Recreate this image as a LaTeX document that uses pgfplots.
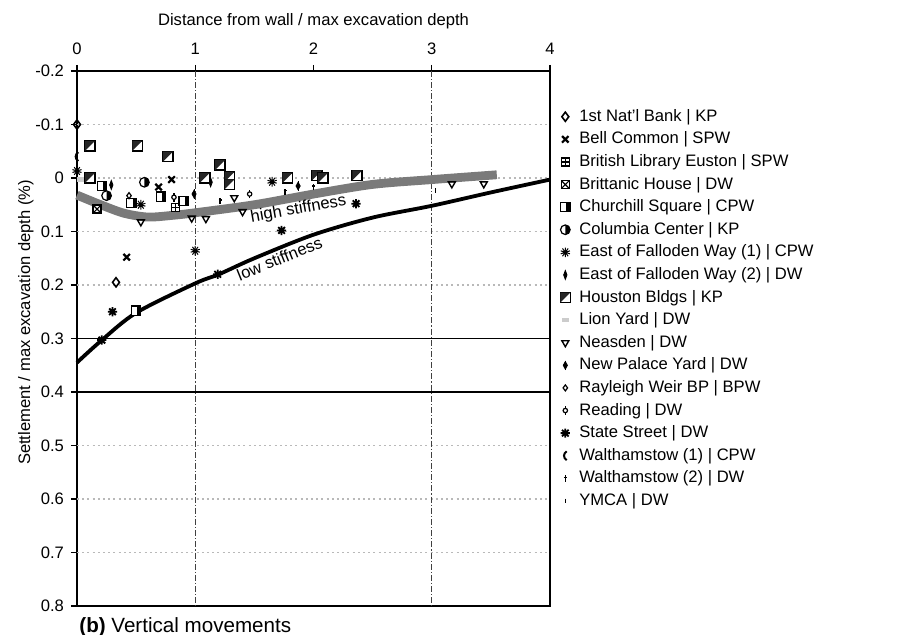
\documentclass[border=0pt]{standalone}
\usepackage{fontspec}
\setmainfont{Liberation Sans}
\usepackage{pgfplots}
\pgfplotsset{compat=1.18}
\usetikzlibrary{plotmarks}

% custom marks
\pgfdeclareplotmark{sqplus}{%
 \pgfpathrectangle{\pgfqpoint{-\pgfplotmarksize}{-\pgfplotmarksize}}{\pgfqpoint{2\pgfplotmarksize}{2\pgfplotmarksize}}%
 \pgfusepathqfillstroke
 \pgfpathmoveto{\pgfqpoint{0pt}{-\pgfplotmarksize}}\pgfpathlineto{\pgfqpoint{0pt}{\pgfplotmarksize}}%
 \pgfpathmoveto{\pgfqpoint{-\pgfplotmarksize}{0pt}}\pgfpathlineto{\pgfqpoint{\pgfplotmarksize}{0pt}}%
 \pgfusepathqstroke}
\pgfdeclareplotmark{sqtimes}{%
 \pgfpathrectangle{\pgfqpoint{-\pgfplotmarksize}{-\pgfplotmarksize}}{\pgfqpoint{2\pgfplotmarksize}{2\pgfplotmarksize}}%
 \pgfusepathqfillstroke
 \pgfpathmoveto{\pgfqpoint{-\pgfplotmarksize}{-\pgfplotmarksize}}\pgfpathlineto{\pgfqpoint{\pgfplotmarksize}{\pgfplotmarksize}}%
 \pgfpathmoveto{\pgfqpoint{-\pgfplotmarksize}{\pgfplotmarksize}}\pgfpathlineto{\pgfqpoint{\pgfplotmarksize}{-\pgfplotmarksize}}%
 \pgfusepathqstroke}
\pgfdeclareplotmark{sqbar}{%
 \pgfpathrectangle{\pgfqpoint{-\pgfplotmarksize}{-\pgfplotmarksize}}{\pgfqpoint{2\pgfplotmarksize}{2\pgfplotmarksize}}%
 \pgfusepathqfillstroke
 \pgfscope\pgfsetfillcolor{black}%
 \pgfpathrectangle{\pgfqpoint{0.25\pgfplotmarksize}{-\pgfplotmarksize}}{\pgfqpoint{0.75\pgfplotmarksize}{2\pgfplotmarksize}}%
 \pgfusepathqfill\endpgfscope}
\pgfdeclareplotmark{sqdiag}{%
 \pgfpathrectangle{\pgfqpoint{-\pgfplotmarksize}{-\pgfplotmarksize}}{\pgfqpoint{2\pgfplotmarksize}{2\pgfplotmarksize}}%
 \pgfusepathqfillstroke
 \pgfscope\pgfsetfillcolor{black!85}%
 \pgfpathmoveto{\pgfqpoint{-\pgfplotmarksize}{-\pgfplotmarksize}}%
 \pgfpathlineto{\pgfqpoint{-\pgfplotmarksize}{\pgfplotmarksize}}%
 \pgfpathlineto{\pgfqpoint{\pgfplotmarksize}{\pgfplotmarksize}}%
 \pgfpathclose
 \pgfusepathqfill\endpgfscope}
\pgfdeclareplotmark{halfc}{%
 \pgfpathcircle{\pgfpointorigin}{\pgfplotmarksize}%
 \pgfusepathqfillstroke
 \pgfscope\pgfsetfillcolor{black}%
 \pgfpathmoveto{\pgfqpoint{0pt}{\pgfplotmarksize}}%
 \pgfpatharc{90}{-90}{\pgfplotmarksize}%
 \pgfpathclose
 \pgfusepathqfill\endpgfscope}
\pgfdeclareplotmark{spoke8}{%
 \pgfpathmoveto{\pgfqpoint{-\pgfplotmarksize}{0pt}}\pgfpathlineto{\pgfqpoint{\pgfplotmarksize}{0pt}}%
 \pgfpathmoveto{\pgfqpoint{0pt}{-\pgfplotmarksize}}\pgfpathlineto{\pgfqpoint{0pt}{\pgfplotmarksize}}%
 \pgfpathmoveto{\pgfqpoint{-0.72\pgfplotmarksize}{-0.72\pgfplotmarksize}}\pgfpathlineto{\pgfqpoint{0.72\pgfplotmarksize}{0.72\pgfplotmarksize}}%
 \pgfpathmoveto{\pgfqpoint{-0.72\pgfplotmarksize}{0.72\pgfplotmarksize}}\pgfpathlineto{\pgfqpoint{0.72\pgfplotmarksize}{-0.72\pgfplotmarksize}}%
 \pgfusepathqstroke}
\pgfdeclareplotmark{circstem}{%
 \pgfpathmoveto{\pgfqpoint{0pt}{-\pgfplotmarksize}}\pgfpathlineto{\pgfqpoint{0pt}{\pgfplotmarksize}}%
 \pgfusepathqstroke
 \pgfpathcircle{\pgfpointorigin}{0.5\pgfplotmarksize}%
 \pgfusepathqfillstroke}
\pgfdeclareplotmark{diamstem}{%
 \pgfpathmoveto{\pgfqpoint{0pt}{-1.3\pgfplotmarksize}}\pgfpathlineto{\pgfqpoint{0pt}{1.3\pgfplotmarksize}}%
 \pgfusepathqstroke
 \pgfpathmoveto{\pgfqpoint{0pt}{\pgfplotmarksize}}%
 \pgfpathlineto{\pgfqpoint{0.55\pgfplotmarksize}{0pt}}%
 \pgfpathlineto{\pgfqpoint{0pt}{-\pgfplotmarksize}}%
 \pgfpathlineto{\pgfqpoint{-0.55\pgfplotmarksize}{0pt}}%
 \pgfpathclose
 \pgfusepathqfillstroke}
\pgfdeclareplotmark{stemcross}{%
 \pgfpathmoveto{\pgfqpoint{0pt}{-\pgfplotmarksize}}\pgfpathlineto{\pgfqpoint{0pt}{\pgfplotmarksize}}%
 \pgfpathmoveto{\pgfqpoint{-0.45\pgfplotmarksize}{0.35\pgfplotmarksize}}\pgfpathlineto{\pgfqpoint{0.45\pgfplotmarksize}{0.35\pgfplotmarksize}}%
 \pgfusepathqstroke}
\pgfdeclareplotmark{paren}{%
 \pgfpathmoveto{\pgfqpoint{0.3\pgfplotmarksize}{\pgfplotmarksize}}%
 \pgfpathcurveto{\pgfqpoint{-0.5\pgfplotmarksize}{0.5\pgfplotmarksize}}{\pgfqpoint{-0.5\pgfplotmarksize}{-0.5\pgfplotmarksize}}{\pgfqpoint{0.3\pgfplotmarksize}{-\pgfplotmarksize}}%
 \pgfusepathqstroke}
\pgfdeclareplotmark{liony}{%
 \pgfpathrectangle{\pgfqpoint{-\pgfplotmarksize}{-0.7\pgfplotmarksize}}{\pgfqpoint{2\pgfplotmarksize}{1.4\pgfplotmarksize}}%
 \pgfusepathqfill}

\begin{document}
\begin{tikzpicture}
\useasboundingbox (-38.5pt,-14.5pt) rectangle (414.5pt,303pt);
\begin{axis}[
  at={(0,0)}, anchor=south west,
  scale only axis, width=236.5pt, height=267.5pt,
  xmin=0, xmax=4, ymin=-0.2, ymax=0.8, y dir=reverse,
  axis line style={line width=1pt},
  xtick={0,1,2,3,4}, xticklabels={0,1,2,3,4},
  ytick={-0.2,-0.1,0,0.1,0.2,0.3,0.4,0.5,0.6,0.7,0.8},
  yticklabels={-0.2,-0.1,0,0.1,0.2,0.3,0.4,0.5,0.6,0.7,0.8},
  xtick pos=upper, xticklabel pos=upper, ytick pos=left,
  tick align=outside, major tick length=3pt,
  tick style={line width=0.6pt, black},
  tick label style={font=\fontsize{8.3}{10}\selectfont},
  xticklabel style={yshift=1.5pt},
  xlabel={Distance from wall / max excavation depth},
  xlabel style={font=\fontsize{8.3}{10}\selectfont, at={(axis description cs:0.5,1.0935)}, anchor=center},
  ylabel={Settlement / max excavation depth (\%)},
  ylabel style={font=\fontsize{8.3}{10}\selectfont, at={(axis description cs:-0.108,0.53)}, anchor=center, rotate=0},
  legend style={at={(rel axis cs:1.021,0.933)}, anchor=north west, draw=none, fill=none,
    font=\fontsize{8.3}{10}\selectfont, inner sep=0pt, row sep=1.8pt,
    nodes={inner sep=1pt, text height=6pt, text depth=1.5pt}, column sep=3.5pt},
  legend cell align=left,
  legend image code/.code={\draw[mark repeat=2,mark phase=2,#1] plot coordinates {(0pt,0pt) (3pt,0pt) (6pt,0pt)};},
  clip=false,
]
% grid
\foreach \yy in {-0.1,0,0.1,0.2,0.5,0.6,0.7}{
  \edef\tmp{\noexpand\draw[gray!55, line width=0.6pt, dash pattern=on 1pt off 1.6pt] (axis cs:0,\yy) -- (axis cs:4,\yy);}\tmp
}
\draw[black, line width=0.7pt] (axis cs:0,0.3) -- (axis cs:4,0.3);
\draw[black, line width=0.7pt] (axis cs:0,0.4) -- (axis cs:4,0.4);
\draw[black!75, line width=0.6pt, dash pattern=on 3pt off 1pt on 0.6pt off 1pt] (axis cs:1,-0.2) -- (axis cs:1,0.8);
\draw[black!75, line width=0.6pt, dash pattern=on 3pt off 1pt on 0.6pt off 1pt] (axis cs:3,-0.2) -- (axis cs:3,0.8);

% high stiffness band
\addplot[forget plot, smooth, black!52, line width=4.4pt] coordinates {
 (0,0.032) (0.2,0.05) (0.4,0.066) (0.6,0.073) (0.8,0.07) (1.0,0.065) (1.5,0.05) (2.0,0.03) (2.5,0.012) (3.0,0.003) (3.55,-0.006)};
% low stiffness
\addplot[forget plot, smooth, black, line width=1.9pt] coordinates {
 (0,0.345) (0.2,0.305) (0.5,0.252) (1.0,0.197) (1.2,0.18) (1.5,0.15) (2.0,0.106) (2.5,0.074) (3.0,0.052) (3.5,0.027) (4.0,0.003)};

\node[font=\fontsize{8.3}{10}\selectfont, rotate=10, anchor=north, inner sep=0.5pt] at (axis cs:1.86,0.042) {high stiffness};
\node[font=\fontsize{8.3}{10}\selectfont, rotate=22, anchor=north, inner sep=0.3pt] at (axis cs:1.69,0.1385) {low stiffness};

% data series
\addplot[only marks, mark=diamond, mark size=2.3pt, mark options={fill=white, line width=0.8pt}] coordinates {(0,-0.1) (0.33,0.195)};
\addplot[only marks, mark=x, mark size=2.3pt, mark options={line width=1.1pt}] coordinates {(0.8,0.003) (0.69,0.017) (0.42,0.148)};
\addplot[only marks, mark=sqplus, mark size=2pt, mark options={fill=white, line width=0.6pt}] coordinates {(0.83,0.055)};
\addplot[only marks, mark=sqtimes, mark size=2pt, mark options={fill=white, line width=0.6pt}] coordinates {(0.17,0.058)};
\addplot[only marks, mark=sqbar, mark size=2.3pt, mark options={fill=white, line width=0.7pt}] coordinates {(0.21,0.015) (0.46,0.047) (0.71,0.035) (0.9,0.043) (0.5,0.248)};
\addplot[only marks, mark=halfc, mark size=2.4pt, mark options={fill=white, line width=0.6pt}] coordinates {(0.25,0.033) (0.57,0.008)};
\addplot[only marks, mark=10-pointed star, mark size=2.4pt, mark options={fill=white, line width=0.5pt}] coordinates {(0,-0.013) (0.54,0.05) (1.65,0.007) (1.0,0.136)};
\addplot[only marks, mark=diamond*, mark size=1.6pt, mark options={fill=black, yscale=1.4, xscale=0.7}] coordinates {(0.29,0.013) (1.13,0.008)};
\addplot[only marks, mark=sqdiag, mark size=2.5pt, mark options={fill=white, line width=0.8pt}] coordinates {(0.11,-0.06) (0.51,-0.06) (0.77,-0.04) (1.21,-0.024) (0.11,0.0) (1.08,0.0) (1.29,-0.002) (1.29,0.012) (1.78,0.0) (2.03,-0.005) (2.08,0.0) (2.37,-0.005)};
\addplot[only marks, mark=liony, mark size=1.6pt, mark options={fill=gray!40, draw=none}] coordinates {(0.03,0.003)};
\addplot[only marks, mark=triangle, mark size=2pt, mark options={fill=white, rotate=180, line width=0.7pt}] coordinates {(0.54,0.082) (0.97,0.075) (1.09,0.076) (1.33,0.037) (1.4,0.063) (3.17,0.011) (3.44,0.011)};
\addplot[only marks, mark=diamstem, mark size=1.8pt, mark options={fill=black, line width=0.5pt}] coordinates {(0.99,0.03) (1.87,0.015)};
\addplot[only marks, mark=diamond, mark size=1.5pt, mark options={fill=white, line width=0.6pt}] coordinates {(0.44,0.033)};
\addplot[only marks, mark=circstem, mark size=2.2pt, mark options={fill=white, line width=0.6pt}] coordinates {(0.82,0.036) (1.46,0.03)};
\addplot[only marks, mark=spoke8, mark size=2.3pt, mark options={line width=0.9pt}] coordinates {(0.3,0.25) (0.21,0.303) (1.19,0.18) (1.73,0.098) (2.36,0.048)};
\addplot[only marks, mark=paren, mark size=2.2pt, mark options={line width=1pt}] coordinates {(0,-0.04)};
\addplot[only marks, mark=stemcross, mark size=1.6pt, mark options={line width=0.7pt}] coordinates {(1.21,0.043) (1.76,0.026) (2.0,0.017)};
\addplot[only marks, mark=|, mark size=1.2pt, mark options={line width=0.7pt}] coordinates {(3.03,0.024)};

\legend{1st Nat'l Bank | KP, Bell Common | SPW, British Library Euston | SPW, Brittanic House | DW,
 Churchill Square | CPW, Columbia Center | KP, East of Falloden Way (1) | CPW, East of Falloden Way (2) | DW,
 Houston Bldgs | KP, Lion Yard | DW, Neasden | DW, New Palace Yard | DW, Rayleigh Weir BP | BPW,
 Reading | DW, State Street | DW, Walthamstow (1) | CPW, Walthamstow (2) | DW, YMCA | DW}

\node[anchor=west, inner sep=0pt, font=\fontsize{10.3}{12}\selectfont] at ([xshift=1pt,yshift=-10.5pt]rel axis cs:0,0) {\textbf{(b)} Vertical movements};
\end{axis}
\end{tikzpicture}
\end{document}
